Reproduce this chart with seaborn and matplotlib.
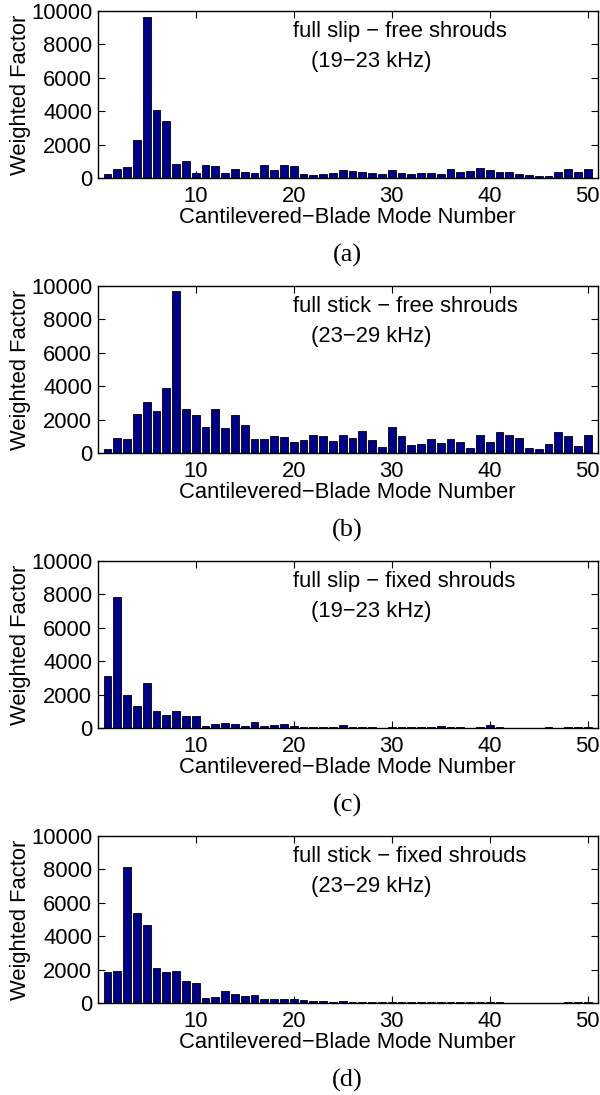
import numpy as np
import pandas as pd
import matplotlib
matplotlib.use("Agg")
import matplotlib.pyplot as plt
import seaborn as sns

modes = list(range(1, 51))

slip_free = [260, 540, 640, 2280, 9620, 4080, 3440, 820, 1020, 280,
             760, 740, 320, 520, 380, 280, 780, 460, 800, 700,
             220, 200, 250, 300, 480, 420, 360, 280, 260, 500,
             320, 240, 300, 300, 240, 560, 340, 420, 620, 500,
             360, 340, 240, 180, 140, 120, 340, 520, 340, 520]

stick_free = [260, 920, 860, 2360, 3060, 2500, 3880, 9720, 2640, 2280,
              1560, 2640, 1520, 2260, 1700, 860, 820, 1040, 940, 640,
              780, 1060, 990, 740, 1100, 880, 1320, 780, 380, 1540,
              1040, 460, 520, 840, 600, 860, 660, 280, 1060, 680,
              1280, 1060, 900, 300, 220, 520, 1260, 1040, 420, 1080]

slip_fixed = [3140, 7820, 1980, 1300, 2720, 1040, 760, 1040, 720, 700,
              120, 220, 300, 220, 140, 380, 100, 180, 260, 140,
              60, 60, 40, 40, 160, 30, 30, 30, 20, 30,
              80, 30, 80, 70, 120, 40, 30, 20, 40, 180,
              40, 20, 20, 20, 20, 80, 20, 30, 30, 30]

stick_fixed = [1840, 1940, 8140, 5380, 4700, 2120, 1860, 1900, 1300, 1180,
               280, 340, 700, 560, 400, 460, 220, 220, 260, 240,
               160, 140, 100, 60, 140, 60, 60, 50, 40, 40,
               40, 40, 60, 60, 60, 40, 40, 30, 40, 80,
               30, 20, 20, 20, 20, 20, 20, 30, 30, 30]

series = [slip_free, stick_free, slip_fixed, stick_fixed]
titles_line1 = ["full slip \u2212 free shrouds", "full stick \u2212 free shrouds",
                "full slip \u2212 fixed shrouds", "full stick \u2212 fixed shrouds"]
titles_line2 = ["(19\u221223 kHz)", "(23\u221229 kHz)", "(19\u221223 kHz)", "(23\u221229 kHz)"]
captions = ["(a)", "(b)", "(c)", "(d)"]
xticks = [10, 20, 30, 40, 50]
yticks = [0, 2000, 4000, 6000, 8000, 10000]

sns.set_theme(style="white")
plt.rcParams['font.family'] = ['Liberation Sans', 'DejaVu Sans']

W, H = 600, 1095
fig = plt.figure(figsize=(W / 100, H / 100), dpi=100)

ax_left = 97.7
ax_right = 597.5
tops = [11, 286, 561, 836]
ax_h = 167
fs = 15.8

for k in range(4):
    top = tops[k]
    bottom = top + ax_h
    ax = fig.add_axes([ax_left / W, 1 - bottom / H, (ax_right - ax_left) / W, ax_h / H])
    df = pd.DataFrame({"mode": modes, "value": series[k]})
    sns.barplot(data=df, x="mode", y="value", native_scale=True, width=0.8,
                color="#00008F", saturation=1, edgecolor="black", linewidth=0.6,
                ax=ax, errorbar=None)
    ax.set_xlim(0, 51)
    ax.set_ylim(0, 10000)
    ax.set_xticks(xticks)
    ax.set_yticks(yticks)
    ax.set_xticklabels([str(t) for t in xticks], fontsize=fs)
    ax.set_yticklabels([str(t) for t in yticks], fontsize=fs)
    ax.tick_params(direction="in", length=5, width=0.8, top=True, right=True,
                   bottom=True, left=True, colors="black")
    ax.tick_params(axis="x", pad=6)
    ax.tick_params(axis="y", pad=4)
    for s in ax.spines.values():
        s.set_visible(True)
        s.set_color("black")
        s.set_linewidth(1.0)
    ax.set_xlabel("Cantilevered\u2212Blade Mode Number", fontsize=fs, color="black", labelpad=0)
    ax.set_ylabel("Weighted Factor", fontsize=fs, color="black", labelpad=0)
    ax.grid(False)
    ax.text((293 - ax_left) / (ax_right - ax_left), 0.875, titles_line1[k],
            transform=ax.transAxes, fontsize=fs, va="center", ha="left", color="black")
    ax.text((311 - ax_left) / (ax_right - ax_left), 0.695, titles_line2[k],
            transform=ax.transAxes, fontsize=fs, va="center", ha="left", color="black")
    fig.text(0.5 * (ax_left + ax_right) / W, 1 - (bottom + 77) / H, captions[k],
             fontsize=19, family=['Liberation Serif', 'DejaVu Serif'],
             ha="center", va="center", color="black")

fig.savefig("out.png", dpi=100, facecolor="white")
